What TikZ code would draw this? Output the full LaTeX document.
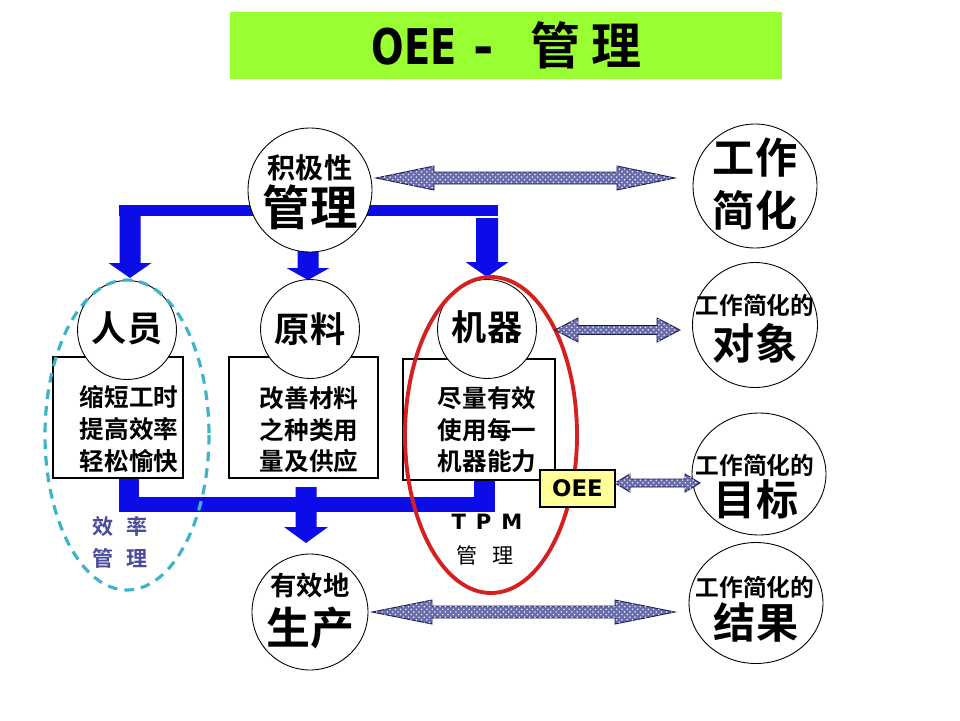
\documentclass[tikz,border=0pt]{standalone}
\usepackage{fontspec}
\newfontfamily\cjk{Noto Sans CJK SC}[BoldFont={Noto Sans CJK SC Bold}]
\newfontfamily\lat{DejaVu Sans}
\usetikzlibrary{patterns,shapes.geometric}
\definecolor{blu}{RGB}{12,12,232}
\definecolor{titlegreen}{RGB}{153,255,51}
\definecolor{dblfill}{RGB}{104,108,170}
\definecolor{dblpat}{RGB}{235,238,250}
\definecolor{dblline}{RGB}{25,25,85}
\definecolor{cyanring}{RGB}{60,180,200}
\definecolor{redring}{RGB}{212,32,32}
\definecolor{slate}{RGB}{75,75,155}
\definecolor{oeeyellow}{RGB}{255,255,153}
\newcommand\fsz[1]{\fontsize{#1pt}{#1pt}\selectfont}
\newcommand\dblarr[6]{% x1 x2 y headlen headhalf shafthalf
  \filldraw[dbl] (#1,#3) -- (#1+#4,#3-#5) -- (#1+#4,#3-#6) -- (#2-#4,#3-#6) -- (#2-#4,#3-#5) -- (#2,#3)
   -- (#2-#4,#3+#5) -- (#2-#4,#3+#6) -- (#1+#4,#3+#6) -- (#1+#4,#3+#5) -- cycle;}
\newcommand\downarr[6]{% xc ytop yhead ytip shafthalf headhalf
  \fill[blu] (#1-#5,#2) -- (#1+#5,#2) -- (#1+#5,#3) -- (#1+#6,#3) -- (#1,#4) -- (#1-#6,#3) -- (#1-#5,#3) -- cycle;}
\tikzset{
  dbl/.style={fill=dblfill, draw=dblline, line width=0.5pt, postaction={pattern=crosshatch dots, pattern color=dblpat}},
  circ/.style={circle, draw=black, line width=0.5pt, fill=white, inner sep=0pt},
  ell/.style={ellipse, draw=black, line width=0.5pt, fill=white, inner sep=0pt},
  box/.style={draw=black, line width=0.6pt, fill=white, inner sep=0pt},
  bt/.style={font=\cjk\bfseries, inner sep=0pt, align=center},
  boxtext/.style={font=\cjk\bfseries\fontsize{14pt}{18pt}\selectfont, inner sep=0pt, align=center},
  titletext/.style={inner sep=0pt, anchor=base},
}
\begin{document}
\begin{tikzpicture}[x=0.02cm,y=-0.02cm]
\useasboundingbox[fill=white] (0,0) rectangle (960,720);
% title
\node[fill=titlegreen, minimum width=11.04cm, minimum height=1.34cm, inner sep=0pt] (title) at (506,45.5) {};
\node[titletext, font=\lat\bfseries] (titleoee) at (414,64) {\scalebox{0.78}[1]{\fsz{28}OEE}};
\node[titletext, font=\lat\bfseries] (titledash) at (484,64) {\fsz{28}-};
\node[titletext, font=\cjk\bfseries] (titlek1) at (556,64) {\fsz{28.5}管};
\node[titletext, font=\cjk\bfseries] (titlek2) at (617,64) {\fsz{28.5}理};
% blue connectors top
\fill[blu] (119,205) rectangle (498,216);
\downarr{130}{215}{263}{278}{10.5}{21.5}
\downarr{308}{245}{268}{280}{10.5}{21.5}
\downarr{487}{218}{262}{277}{11}{21.5}
% blue connectors bottom
\fill[blu] (119,478) rectangle (139,512);
\fill[blu] (119,497) rectangle (495,512);
\fill[blu] (474,480) rectangle (495,512);
\downarr{306}{487}{527}{543}{10.5}{22}
% boxes
\node[box, minimum width=2.6cm, minimum height=2.42cm] (pbox) at (118,417.5) {};
\node[box, minimum width=2.98cm, minimum height=2.42cm] (mbox) at (303.5,417.5) {};
\node[box, minimum width=3.04cm, minimum height=2.42cm] (kbox) at (479,419.5) {};
\node[boxtext] (ptext) at (129,429) {缩短工时\\提高效率\\轻松愉快};
\node[boxtext] (mtext) at (309,430) {改善材料\\之种类用\\量及供应};
\node[boxtext] (ktext) at (487,430) {尽量有效\\使用每一\\机器能力};
% circles
\node[circ, minimum size=2.48cm] (ptop) at (310,190) {};
\node[bt] (ptop1) at (310,168) {\fsz{16}积极性};
\node[bt] (ptop2) at (310,207) {\fsz{27}管理};
\node[circ, minimum size=1.98cm] (people) at (127,330) {};
\node[bt] (peoplet) at (127,328) {\fsz{20}人员};
\node[circ, minimum size=1.98cm] (mat) at (310,329) {};
\node[bt] (matt) at (310,329) {\fsz{20}原料};
\node[circ, minimum size=1.98cm] (mach) at (487,329) {};
\node[bt] (macht) at (487,327) {\fsz{20}机器};
\node[circ, minimum size=2.32cm] (prod) at (310,612) {};
\node[bt] (prod1) at (310,586) {\fsz{15}有效地};
\node[bt] (prod2) at (310,628) {\fsz{25}生产};
\node[circ, minimum size=2.48cm] (simp) at (755,186) {};
\node[bt] (simp1) at (755,158) {\fsz{24}工作};
\node[bt] (simp2) at (755,210) {\fsz{24}简化};
\node[circ, minimum size=2.5cm] (obj) at (755,325) {};
\node[bt] (obj1) at (755,305) {\fsz{13.5}工作简化的};
\node[bt] (obj2) at (755,343) {\fsz{24}对象};
\node[ell, minimum width=2.68cm, minimum height=2.44cm] (goal) at (759,474) {};
\node[bt] (goal1) at (755,465) {\fsz{13.5}工作简化的};
\node[bt] (goal2) at (756,499) {\fsz{24}目标};
\node[ell, minimum width=2.68cm, minimum height=2.42cm] (res) at (756,603) {};
\node[bt] (res1) at (755,587) {\fsz{13.5}工作简化的};
\node[bt] (res2) at (756,622) {\fsz{24}结果};
% rings
\draw[cyanring, line width=1.8pt, dash pattern=on 5.5pt off 4pt] (127,435) ellipse [x radius=82, y radius=155];
\draw[redring, line width=2.2pt] (491,435) ellipse [x radius=86, y radius=158];
% labels
\node[font=\cjk\bfseries, text=slate, inner sep=0pt] (eff1) at (120,526) {\fsz{12}效\hspace{0.25cm}率};
\node[font=\cjk\bfseries, text=slate, inner sep=0pt] (eff2) at (120,558) {\fsz{12}管\hspace{0.25cm}理};
\node[font=\lat\bfseries, inner sep=0pt] (tpm1) at (487,522) {\fsz{12}T\hspace{0.2cm}P\hspace{0.2cm}M};
\node[font=\cjk, inner sep=0pt] (tpm2) at (485,555) {\fsz{12}管\hspace{0.3cm}理};
% OEE box
\node[draw=black, line width=0.6pt, fill=oeeyellow, minimum width=1.5cm, minimum height=0.74cm, inner sep=0pt, font=\lat\bfseries] (oee) at (577.5,488.5) {\fsz{13}OEE};
% double arrows
\dblarr{376}{675}{178}{58}{12}{6}
\dblarr{555}{680}{330}{23}{12}{4.5}
\dblarr{615}{700}{483}{15}{9}{4}
\dblarr{372}{675}{612}{60}{12}{6}
\end{tikzpicture}
\end{document}
